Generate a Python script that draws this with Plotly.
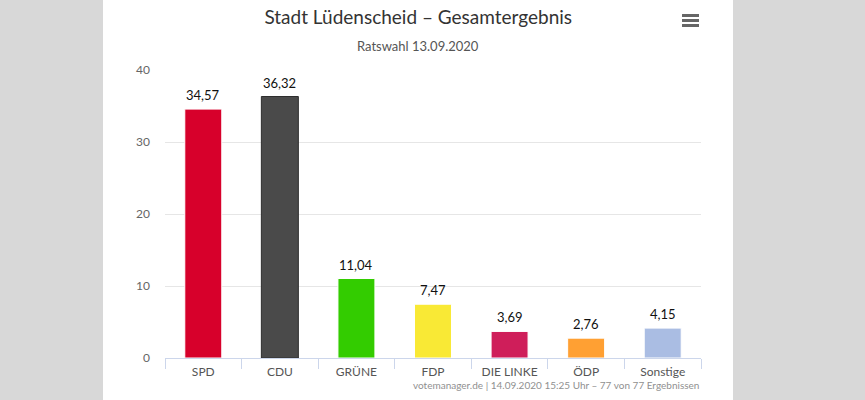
import plotly.graph_objects as go

parties = ["SPD", "CDU", "GRÜNE", "FDP", "DIE LINKE", "ÖDP", "Sonstige"]
percent = [34.57, 36.32, 11.04, 7.47, 3.69, 2.76, 4.15]
colors = ["#d7002b", "#4a4a4a", "#33cc00", "#f9e935", "#cf1e5a", "#ffa033", "#aabde3"]
edges = ["#ffffff", "#2e2e2e", "#ffffff", "#ffffff", "#ffffff", "#ffffff", "#ffffff"]
y_ticks = [0, 10, 20, 30, 40]

FONT = "Lato"

fig = go.Figure(
    go.Bar(
        x=parties,
        y=percent,
        marker=dict(color=colors, line=dict(color=edges, width=1)),
        hoverinfo="x+y",
    )
)

# value labels above the bars
for p, v in zip(parties, percent):
    fig.add_annotation(x=p, y=v, text=f"{v:.2f}".replace(".", ","),
                       showarrow=False, yanchor="bottom", yshift=4,
                       font=dict(family=FONT, size=13, color="#111111"))

# white card on the grey page
fig.add_shape(type="rect", xref="paper", yref="paper",
              x0=-0.1157, x1=1.0597, y0=-0.6, y1=1.6,
              fillcolor="#ffffff", line=dict(width=0), layer="below")

# hamburger menu icon
for yy in [1.1892, 1.1719, 1.1545]:
    fig.add_shape(type="line", xref="paper", yref="paper",
                  x0=0.9646, x1=0.9963, y0=yy, y1=yy,
                  line=dict(color="#666666", width=3))

fig.add_annotation(text="Ratswahl 13.09.2020", xref="paper", yref="paper",
                   x=0.472, y=1.085, yanchor="middle", showarrow=False,
                   font=dict(family=FONT, size=13, color="#555555"))
fig.add_annotation(text="votemanager.de | 14.09.2020 15:25 Uhr – 77 von 77 Ergebnissen",
                   xref="paper", yref="paper", x=1.0, y=-0.095,
                   xanchor="right", yanchor="middle", showarrow=False,
                   font=dict(family=FONT, size=10, color="#909090"))

fig.update_layout(
    width=865,
    height=400,
    margin=dict(l=165, r=164, t=70, b=42),
    paper_bgcolor="#d8d8d8",
    plot_bgcolor="rgba(0,0,0,0)",
    separators=",.",
    showlegend=False,
    bargap=0.517,
    title=dict(text="Stadt Lüdenscheid – Gesamtergebnis",
               x=0.4835, xanchor="center", y=0.957, yanchor="middle",
               font=dict(family=FONT, size=19, color="#333333")),
    font=dict(family=FONT, color="#666666", size=12),
)
fig.update_xaxes(
    showline=True, linecolor="#ccd6eb", linewidth=1,
    ticks="outside", tickson="boundaries", ticklen=10, tickcolor="#ccd6eb",
    ticklabelstandoff=3,
    tickfont=dict(family=FONT, size=12, color="#555555"),
    showgrid=False, fixedrange=True,
)
fig.update_yaxes(
    range=[0, 40], tickvals=y_ticks,
    gridcolor="#e6e6e6", gridwidth=1, zeroline=False,
    ticklabelstandoff=14,
    tickfont=dict(family=FONT, size=12, color="#666666"),
    fixedrange=True,
)

fig.write_html("out.html", config={"displayModeBar": False},
               post_script="document.body.style.margin='0';document.body.style.background='#d8d8d8';")
